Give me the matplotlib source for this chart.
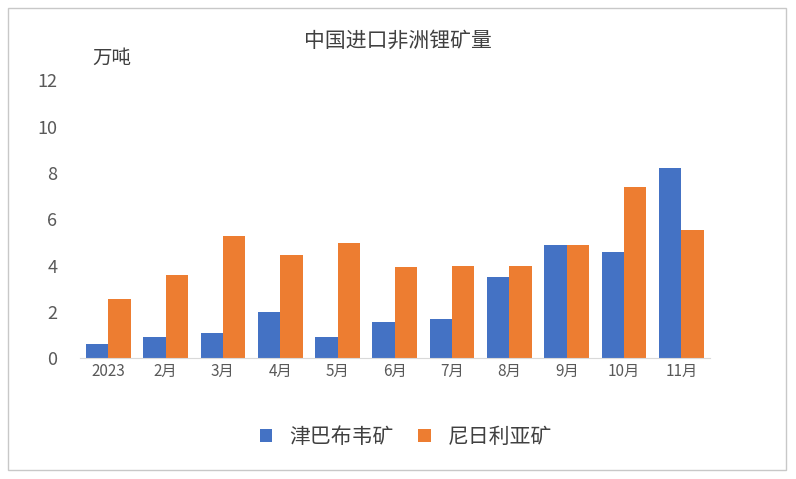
import numpy as np
import matplotlib.pyplot as plt
from matplotlib import font_manager
from matplotlib.patches import Rectangle

# pick whatever CJK family is actually registered
cjk = [f.name for f in font_manager.fontManager.ttflist if 'CJK' in f.name]
plt.rcParams['font.family'] = 'sans-serif'
plt.rcParams['font.sans-serif'] = ['Noto Sans CJK SC'] + sorted(set(cjk)) + ['DejaVu Sans']

months = ['2023', '2月', '3月', '4月', '5月', '6月', '7月', '8月', '9月', '10月', '11月']
zimbabwe = [0.6, 0.9, 1.1, 2.0, 0.9, 1.55, 1.7, 3.5, 4.9, 4.6, 8.2]
nigeria = [2.55, 3.6, 5.3, 4.45, 5.0, 3.95, 4.0, 4.0, 4.9, 7.4, 5.55]

fig = plt.figure(figsize=(7.96, 4.79), dpi=100)
fig.patches.append(Rectangle((0.01, 0.018), 0.978, 0.965, transform=fig.transFigure,
                             fill=False, edgecolor='#c8c8c8', linewidth=1))
ax = fig.add_axes([0.1, 0.252, 0.792, 0.58])

x = np.arange(len(months))
w = 0.39
ax.bar(x - w / 2, zimbabwe, w, color='#4472c4', label='津巴布韦矿')
ax.bar(x + w / 2, nigeria, w, color='#ed7d31', label='尼日利亚矿')

ax.set_ylim(0, 12)
ax.set_yticks(range(0, 13, 2))
ax.set_xlim(-0.5, len(months) - 0.5)
ax.set_xticks(x)
ax.set_xticklabels(months)
ax.tick_params(axis='both', length=0, labelsize=11, colors='#595959')
ax.tick_params(axis='y', labelsize=13, pad=16)
for s in ['top', 'right', 'left']:
    ax.spines[s].set_visible(False)
ax.spines['bottom'].set_color('#d9d9d9')

fig.text(0.5, 0.915, '中国进口非洲锂矿量', ha='center', va='center', fontsize=15, color='#404040')
fig.text(0.14, 0.878, '万吨', ha='center', va='center', fontsize=14, color='#404040')
fig.legend(loc='center', bbox_to_anchor=(0.51, 0.088), ncol=2, frameon=False,
           fontsize=15, handlelength=0.6, handleheight=0.6, columnspacing=1.2,
           labelcolor='#404040')

fig.savefig('out.png')
